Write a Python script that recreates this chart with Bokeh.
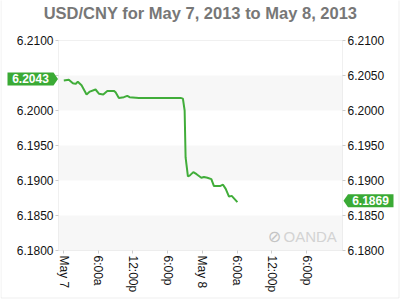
import pandas as pd
from bokeh.plotting import figure
from bokeh.models import (FixedTicker, NumeralTickFormatter, Label, BoxAnnotation,
                          PolyAnnotation, Range1d, LinearAxis)
from bokeh.embed import file_html
from bokeh.resources import INLINE

title_text = "USD/CNY for May 7, 2013 to May 8, 2013"

times = [
    "2013-05-07 00:03", "2013-05-07 00:55", "2013-05-07 01:37", "2013-05-07 02:05",
    "2013-05-07 02:28", "2013-05-07 03:07", "2013-05-07 03:59", "2013-05-07 04:33",
    "2013-05-07 05:32", "2013-05-07 06:07", "2013-05-07 06:52", "2013-05-07 07:34",
    "2013-05-07 08:42", "2013-05-07 09:00", "2013-05-07 09:34", "2013-05-07 10:26",
    "2013-05-07 11:01", "2013-05-07 11:25", "2013-05-07 13:02", "2013-05-07 13:37",
    "2013-05-07 20:14", "2013-05-07 20:38", "2013-05-07 20:56", "2013-05-07 21:06",
    "2013-05-07 21:30", "2013-05-07 21:48", "2013-05-07 22:26", "2013-05-07 23:00",
    "2013-05-07 23:49", "2013-05-08 00:16", "2013-05-08 00:52", "2013-05-08 01:33",
    "2013-05-08 02:00", "2013-05-08 03:02", "2013-05-08 03:34", "2013-05-08 04:02",
    "2013-05-08 04:36", "2013-05-08 05:04", "2013-05-08 06:03",
]
rates = [
    6.2043, 6.2044, 6.2039, 6.2038,
    6.2041, 6.2036, 6.2023, 6.2027,
    6.2030, 6.2024, 6.2023, 6.2028,
    6.2028, 6.2026, 6.2018, 6.2019,
    6.2021, 6.2019, 6.2018, 6.2018,
    6.2018, 6.2017, 6.2000, 6.1933,
    6.1906, 6.1907, 6.1912, 6.1909,
    6.1904, 6.1905, 6.1904, 6.1902,
    6.1892, 6.1892, 6.1894, 6.1888,
    6.1877, 6.1878, 6.1869,
]

y_ticks = [6.18, 6.185, 6.19, 6.195, 6.20, 6.205, 6.21]
band_bottoms = [6.18, 6.19, 6.20]
band_tops = [6.185, 6.195, 6.205]
y_min, y_max = 6.18, 6.21
x_start, x_end = "2013-05-06 23:08", "2013-05-09 00:13"
x_tick_times = [
    "2013-05-07 00:00", "2013-05-07 06:00", "2013-05-07 12:00", "2013-05-07 18:00",
    "2013-05-08 00:00", "2013-05-08 06:00", "2013-05-08 12:00", "2013-05-08 18:00",
]
x_tick_labels = ["May 7", "6:00a", "12:00p", "6:00p", "May 8", "6:00a", "12:00p", "6:00p"]
left_hidden_ticks = [6.205]   # covered by the opening-price flag

GREEN = "#41ad3a"
BOX_GREEN = "#3aaa35"
FRAME_GRAY = "#cccccc"
BAND = "#f7f7f7"
FONT = "Liberation Sans"

# layout geometry (pixels in the 400x300 canvas)
W, H = 400, 300
FL, FR, FT, FB = 58, 342, 40, 250


def ms(t):
    return pd.Timestamp(t).value / 1e6


x = pd.to_datetime(times)
tick_ms = [int(ms(t)) for t in x_tick_times]
xs0, xs1 = ms(x_start), ms(x_end)
sx = (xs1 - xs0) / (FR - FL)
sy = (y_max - y_min) / (FB - FT)

p = figure(width=W, height=H, x_axis_type="datetime",
           output_backend="svg", toolbar_location=None, title=None,
           min_border=0, min_border_left=0, min_border_right=0,
           min_border_top=0, min_border_bottom=0,
           x_range=Range1d(xs0 - FL * sx, xs1 + (W - FR) * sx),
           y_range=Range1d(y_min - (H - FB) * sy, y_max + FT * sy))
p.background_fill_color = "white"
p.border_fill_color = "white"
p.outline_line_color = None
p.xgrid.visible = False
p.ygrid.visible = False

p.add_layout(LinearAxis(), "right")
p.xaxis.fixed_location = y_min
p.yaxis[0].fixed_location = xs0
p.yaxis[1].fixed_location = xs1

yt = FixedTicker(ticks=y_ticks)
for ax in p.yaxis:
    ax.ticker = yt
    ax.formatter = NumeralTickFormatter(format="0.0000")
for ax in p.axis:
    ax.axis_line_color = None
    ax.major_tick_line_color = FRAME_GRAY
    ax.minor_tick_line_color = None
    ax.major_tick_in = 0
    ax.major_tick_out = 3
    ax.major_label_standoff = 2
    ax.major_label_text_font = FONT
    ax.major_label_text_font_size = "12px"
    ax.major_label_text_color = "#111111"
p.yaxis[0].major_label_overrides = {t: "" for t in left_hidden_ticks}

p.xaxis.ticker = FixedTicker(ticks=tick_ms)
p.xaxis.major_label_overrides = dict(zip(tick_ms, x_tick_labels))
p.xaxis.major_label_orientation = "vertical"

# alternating bands inside the plot area
for b, t in zip(band_bottoms, band_tops):
    p.add_layout(BoxAnnotation(left=xs0, right=xs1, bottom=b, top=t, level="underlay",
                               fill_color=BAND, fill_alpha=1.0, line_color=None))

p.line(x, rates, line_color=GREEN, line_width=2)

# plot area border
p.add_layout(BoxAnnotation(left=xs0, right=xs1, bottom=y_min, top=y_max,
                           fill_color=None, fill_alpha=0, line_color=FRAME_GRAY, line_width=1))

# title
p.add_layout(Label(x=200, y=12, x_units="canvas", y_units="canvas", text=title_text,
                   text_align="center", text_baseline="middle",
                   text_font=FONT, text_font_style="bold", text_font_size="16.5px",
                   text_color="#777777"))

# watermark
p.add_layout(Label(x=274, y=236, x_units="canvas", y_units="canvas", text="\u2298",
                   text_align="center", text_baseline="middle",
                   text_font="DejaVu Sans", text_font_size="16px", text_color="#c4c4c4"))
p.add_layout(Label(x=283, y=236, x_units="canvas", y_units="canvas", text="OANDA",
                   text_align="left", text_baseline="middle",
                   text_font=FONT, text_font_size="15px", text_color="#d3d3d3"))

# value flags (sit ~1.5px above the value, as in the source chart)
d = sy * 6.5
lift = sy * 1.5
first, last = rates[0], rates[-1]
fy, ly = first + lift, last + lift
p.add_layout(PolyAnnotation(xs=[7, 53, 57.5, 53, 7], xs_units="canvas",
                            ys=[fy + d, fy + d, fy, fy - d, fy - d], ys_units="data",
                            fill_color=BOX_GREEN, fill_alpha=1.0, line_color=None))
p.add_layout(Label(x=30, y=fy, x_units="canvas", y_units="data", text=f"{first:.4f}",
                   text_align="center", text_baseline="middle", text_color="white",
                   text_font=FONT, text_font_style="bold", text_font_size="12px"))
p.add_layout(PolyAnnotation(xs=[343, 347.5, 393, 393, 347.5], xs_units="canvas",
                            ys=[ly, ly + d, ly + d, ly - d, ly - d], ys_units="data",
                            fill_color=BOX_GREEN, fill_alpha=1.0, line_color=None))
p.add_layout(Label(x=370, y=ly, x_units="canvas", y_units="data", text=f"{last:.4f}",
                   text_align="center", text_baseline="middle", text_color="white",
                   text_font=FONT, text_font_style="bold", text_font_size="12px"))

# outer chart border
p.add_layout(PolyAnnotation(xs=[0.5, 0.5, 398.5, 398.5], ys=[-2, 297.5, 297.5, -2],
                            xs_units="canvas", ys_units="canvas",
                            fill_color=None, fill_alpha=0, line_color="#c8c8c8", line_width=1))

open("out.html", "w").write(file_html(p, INLINE))
